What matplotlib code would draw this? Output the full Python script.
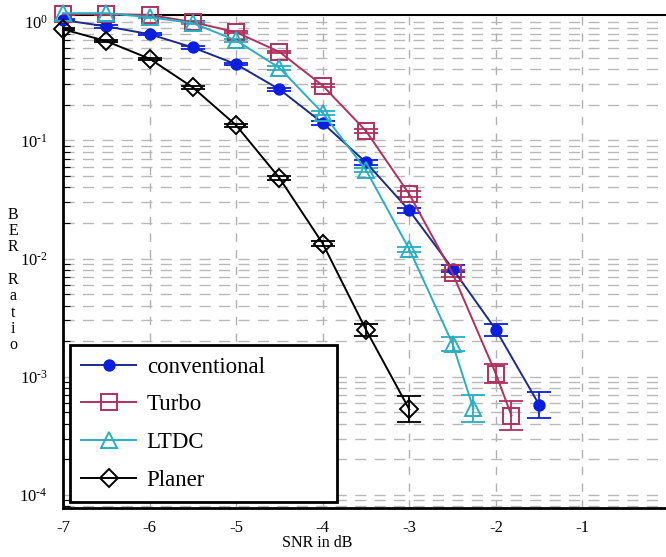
import numpy as np
import matplotlib
matplotlib.use("Agg")
import matplotlib.pyplot as plt
from matplotlib.ticker import LogLocator, NullFormatter, FuncFormatter

plt.rcParams['font.family'] = ['Liberation Serif', 'DejaVu Serif']
plt.rcParams['mathtext.fontset'] = 'custom'
plt.rcParams['mathtext.rm'] = 'Liberation Serif'
plt.rcParams['mathtext.it'] = 'Liberation Serif'

# ---- data ----
x_conv = [-7, -6.5, -6, -5.5, -5, -4.5, -4, -3.5, -3, -2.5, -2, -1.5]
y_conv = [1.04, 0.92, 0.79, 0.61, 0.44, 0.27, 0.14, 0.065, 0.0255, 0.0082, 0.0025, 0.00058]
e_conv = [0.01, 0.01, 0.01, 0.01, 0.01, 0.01, 0.015, 0.02, 0.02, 0.03, 0.05, 0.11]

x_turbo = [-7, -6.5, -6, -5.5, -5, -4.5, -4, -3.5, -3, -2.5, -2, -1.82]
y_turbo = [1.17, 1.17, 1.15, 1.0, 0.82, 0.56, 0.29, 0.12, 0.035, 0.0075, 0.00106, 0.00047]
e_turbo = [0.01, 0.01, 0.01, 0.01, 0.01, 0.01, 0.015, 0.02, 0.025, 0.03, 0.08, 0.12]

x_ltdc = [-7, -6.5, -6, -5.5, -5, -4.5, -4, -3.5, -3, -2.5, -2.26]
y_ltdc = [1.19, 1.19, 1.1, 0.98, 0.70, 0.41, 0.17, 0.056, 0.012, 0.0019, 0.00054]
e_ltdc = [0.01, 0.01, 0.01, 0.01, 0.01, 0.015, 0.02, 0.02, 0.02, 0.06, 0.115]

x_plan = [-7, -6.5, -6, -5.5, -5, -4.5, -4, -3.5, -3]
y_plan = [0.87, 0.69, 0.49, 0.28, 0.134, 0.048, 0.0134, 0.0025, 0.00053]
e_plan = [0.01, 0.01, 0.01, 0.01, 0.015, 0.02, 0.02, 0.05, 0.11]

labels = ['conventional', 'Turbo', 'LTDC', 'Planer']
xticks = [-7, -6, -5, -4, -3, -2, -1, 0]

fig = plt.figure(figsize=(6.66, 5.57), dpi=100)
ax = fig.add_axes([63/666, 1 - 508/557, 606/666, (508 - 15)/557])
ax.set_yscale('log')
ax.set_xlim(-7, 0)
ax.set_ylim(10**-4.11, 10**0.06)


def yerr(y, e):
    y = np.asarray(y); e = np.asarray(e)
    return [y - y * 10**(-e), y * 10**e - y]


series = [
    (x_conv, y_conv, e_conv, 'o', '#1c2a8a', '#0a1ee0', '#0a1ee0', 7.5),
    (x_turbo, y_turbo, e_turbo, 's', '#b0305e', 'none', '#b0305e', 11),
    (x_ltdc, y_ltdc, e_ltdc, '^', '#2aaec0', 'none', '#2aaec0', 11),
    (x_plan, y_plan, e_plan, 'D', '#000000', 'none', '#000000', 9),
]
handles = []
for (xs, ys, es, mk, lc, mfc, mec, ms), lab in zip(series, labels):
    ax.errorbar(xs, ys, yerr=yerr(ys, es), fmt='none', ecolor=mec if mec != 'none' else lc,
                elinewidth=1.3, capsize=8.5, capthick=1.3, zorder=3)
    h, = ax.plot(xs, ys, color=lc, lw=1.4, marker=mk, ms=ms, mfc=mfc, mec=mec,
                 mew=1.4, zorder=4, label=lab, clip_on=False)
    handles.append(h)

# ticks and grid
ax.set_xticks(xticks)
ax.set_xticklabels([str(t) for t in xticks])
ax.yaxis.set_major_locator(LogLocator(base=10, numticks=10))
ax.yaxis.set_major_formatter(FuncFormatter(
    lambda v, p: r'$10^{%s}$' % (r'\text{-}%d' % -round(np.log10(v)) if v < 0.9 else '0')))
ax.yaxis.set_minor_locator(LogLocator(base=10, subs=np.arange(2, 10), numticks=10))
ax.yaxis.set_minor_formatter(NullFormatter())
ax.grid(True, which='major', axis='x', color='#b0b0b0', ls=(0, (6, 6)), lw=1.0)
ax.grid(True, which='both', axis='y', color='#b8b8b8', ls=(0, (8, 6)), lw=1.0)
ax.set_axisbelow(True)

for s in ['left', 'bottom']:
    ax.spines[s].set_linewidth(2)
ax.spines['top'].set_linewidth(1.5)
ax.spines['right'].set_visible(False)
ax.tick_params(axis='x', which='both', length=0, pad=9, labelsize=12)
ax.tick_params(axis='y', which='major', direction='in', length=0, pad=11, labelsize=12)
ax.tick_params(axis='y', which='minor', direction='in', length=5, width=0.8)

fig.text(13/666, 1 - 280/557, "B\nE\nR\n\nR\na\nt\ni\no", ha='center', va='center',
         fontsize=11.5, linespacing=1.03)
fig.text(317/666, 1 - 543/557, "SNR in dB", ha='center', va='center', fontsize=11.5)

leg = ax.legend(handles=handles, loc='lower left',
                bbox_to_anchor=(7/606, 6/493, (337 - 70)/606, 0.2), mode='expand',
                fontsize=16.5, frameon=True, fancybox=False, edgecolor='black',
                handlelength=2.4, labelspacing=0.72, borderpad=0.5,
                handletextpad=0.45, borderaxespad=0)
leg.get_frame().set_linewidth(2)
leg.get_frame().set_alpha(1)

fig.savefig('out.png', dpi=100)
